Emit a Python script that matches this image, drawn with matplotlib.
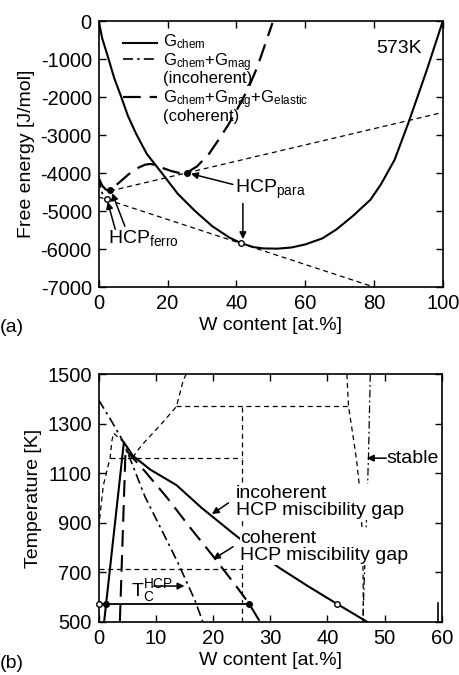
import matplotlib
matplotlib.use('Agg')
import matplotlib.pyplot as plt

plt.rcParams['font.family'] = ['Liberation Sans', 'DejaVu Sans']
plt.rcParams['mathtext.fontset'] = 'custom'
plt.rcParams['mathtext.rm'] = 'Liberation Sans'
plt.rcParams['mathtext.it'] = 'Liberation Sans:italic'
plt.rcParams['mathtext.bf'] = 'Liberation Sans:bold'
plt.rcParams['axes.unicode_minus'] = False

# ---- (a) free energy at 573 K ----
w_chem = [0, 1, 2.8, 4.5, 6.5, 8.5, 11, 14, 18.3, 23, 28, 33, 38, 41.5, 45, 48, 52,
          56, 60, 65, 69, 74, 79, 82, 86, 90, 93.4, 95.5, 97.3, 99, 100]
g_chem = [0, -450, -980, -1500, -1985, -2500, -2990, -3500, -3995, -4550, -5000, -5400,
          -5700, -5850, -5950, -5985, -5990, -5960, -5880, -5720, -5490, -5120, -4700,
          -4300, -3650, -2680, -1800, -1250, -750, -280, 0]

w_incoh = [0, 0.6, 1.2, 2.3, 3.5, 4.8]
g_incoh = [-4130, -4420, -4570, -4690, -4710, -4660]

w_coh = [0, 1, 2, 2.7, 3.3, 5.7, 8.6, 11.5, 13.5, 15, 16.5, 18.3, 21.2, 23.5, 25.6,
         28.5, 31.9, 34.8, 37.7, 40.5, 43.5, 46, 48.3, 50.5]
g_coh = [-4130, -4330, -4430, -4455, -4450, -4270, -4040, -3860, -3780, -3760, -3790,
         -3860, -3950, -4000, -3990, -3830, -3515, -3130, -2725, -2280, -1765, -1230,
         -630, -50]

# common tangents
w_tan1 = [0, 80]
g_tan1 = [-4629, -7000]
w_tan2 = [3.3, 100]
g_tan2 = [-4472, -2405]

w_open_a = [2.3, 41.3]
g_open_a = [-4680, -5850]
w_fill_a = [3.3, 25.6]
g_fill_a = [-4450, -4000]

# ---- (b) phase diagram ----
gap_inc_w = [0.95, 4.4, 6.0, 9.0, 13.6, 18.0, 23.5, 27.5, 31.7, 36.5, 41.6, 46.9]
gap_inc_T = [500, 1225, 1170, 1115, 1052, 960, 857, 785, 716, 645, 573, 500]

gap_coh_w = [3.7, 4.7, 4.9, 8, 12, 16, 20, 24, 26.3, 28.2]
gap_coh_T = [500, 1200, 1190, 1110, 1000, 880, 765, 645, 573, 500]

tc_w = [0, 2, 4.3, 5.8, 8.1, 11, 13.9, 16.8, 18.2]
tc_T = [1396, 1320, 1228, 1140, 1005, 871, 736, 588, 500]

st_h1_w, st_h1_T = [13.6, 43.7], [1370, 1370]
st_h2_w, st_h2_T = [2.0, 25], [1163, 1163]
st_h3_w, st_h3_T = [0, 25], [713, 713]
st_v_w, st_v_T = [25, 25], [500, 1370]
st_top_w = [6.0, 6.6, 8.1, 11.3, 13.6, 14.8, 15.3]
st_top_T = [1163, 1187, 1228, 1308, 1370, 1477, 1500]
st_left_w = [0, 0.2, 0.8, 2.0, 2.3, 2.6, 3.4, 4.4]
st_left_T = [880, 924, 1050, 1163, 1230, 1262, 1245, 1225]
st_rl_w = [43.4, 43.7, 44.5, 45.1, 45.6, 45.9, 46.2, 46.3]
st_rl_T = [1500, 1370, 1248, 1154, 1046, 938, 817, 500]
st_rr_w = [47.5, 47.2, 46.9, 46.6, 46.3, 46.2]
st_rr_T = [1500, 1181, 951, 763, 574, 500]
edge_w, edge_T = [59.4, 59.4], [500, 575]

tie_w, tie_T = [0, 26.3], [573, 573]
open_b_w, open_b_T = [0, 41.6], [573, 573]
fill_b_w, fill_b_T = [1.3, 26.3], [573, 573]

FS = 14
LONG = (0, (8, 4))
SHORT = (0, (4, 3))
DASHDOT = (0, (6, 2.5, 1.5, 2.5))
ARR = dict(arrowstyle='-|>', lw=1.1, color='k', mutation_scale=10, shrinkA=0, shrinkB=0)


def style(ax):
    ax.tick_params(direction='in', length=5, width=1, top=True, right=True,
                   labelsize=14.5, pad=5)
    for s in ax.spines.values():
        s.set_linewidth(1.2)


fig = plt.figure(figsize=(4.6, 6.75), dpi=100)
ax1 = fig.add_axes([0.2146, 0.5748, 0.748, 0.394])
ax2 = fig.add_axes([0.2146, 0.0790, 0.7457, 0.3665])

# (a)
ax1.plot(w_chem, g_chem, color='k', lw=1.5)
ax1.plot(w_incoh, g_incoh, color='k', lw=1.2, linestyle=DASHDOT)
ax1.plot(w_coh, g_coh, color='k', lw=1.6, linestyle=LONG)
ax1.plot(w_tan1, g_tan1, color='k', lw=0.9, linestyle=SHORT)
ax1.plot(w_tan2, g_tan2, color='k', lw=0.9, linestyle=SHORT)
ax1.plot(w_open_a, g_open_a, 'o', ms=4, mfc='white', mec='k', mew=1)
ax1.plot(w_fill_a, g_fill_a, 'o', ms=4, mfc='k', mec='k')
ax1.set_xlim(0, 100)
ax1.set_ylim(-7000, 0)
ax1.set_xticks(range(0, 101, 20))
ax1.set_yticks(range(-7000, 1, 1000))
ax1.set_xlabel('W content [at.%]', fontsize=FS, labelpad=3)
ax1.set_ylabel('Free energy [J/mol]', fontsize=FS, labelpad=4)
style(ax1)

# legend drawn by hand: one text per entry
leg = [('-', 1.5, 0.919, 0.040, 'G$_{\\rm chem}$'),
       (DASHDOT, 1.2, 0.857, 0.030, 'G$_{\\rm chem}$+G$_{\\rm mag}$\n(incoherent)'),
       (LONG, 1.6, 0.716, 0.030, 'G$_{\\rm chem}$+G$_{\\rm mag}$+G$_{\\rm elastic}$\n(coherent)')]
for ls, lw, yy, dy, txt in leg:
    ax1.plot([0.072, 0.17], [yy, yy], transform=ax1.transAxes, color='k', lw=lw, linestyle=ls)
    ax1.text(0.187, yy + dy, txt, transform=ax1.transAxes, fontsize=12, va='top',
             linespacing=0.78)
ax1.text(94, -710, '573K', fontsize=FS, ha='right', va='center')

ax1.text(39.6, -4430, 'HCP$_{\\rm para}$', fontsize=FS, va='center')
ax1.annotate('', xy=(26.8, -4020), xytext=(39.0, -4300), arrowprops=ARR)
ax1.annotate('', xy=(41.9, -5740), xytext=(41.9, -4800), arrowprops=ARR)
ax1.text(2.7, -5700, 'HCP$_{\\rm ferro}$', fontsize=FS, va='center')
ax1.annotate('', xy=(2.6, -4760), xytext=(4.8, -5480), arrowprops=ARR)
ax1.annotate('', xy=(3.9, -4530), xytext=(7.6, -5400), arrowprops=ARR)

# (b)
ax2.plot(st_h1_w, st_h1_T, color='k', lw=0.9, linestyle=SHORT)
ax2.plot(st_h2_w, st_h2_T, color='k', lw=0.9, linestyle=SHORT)
ax2.plot(st_h3_w, st_h3_T, color='k', lw=0.9, linestyle=SHORT)
ax2.plot(st_v_w, st_v_T, color='k', lw=0.9, linestyle=SHORT)
ax2.plot(st_top_w, st_top_T, color='k', lw=0.9, linestyle=SHORT)
ax2.plot(st_left_w, st_left_T, color='k', lw=0.9, linestyle=SHORT)
ax2.plot(st_rl_w, st_rl_T, color='k', lw=0.9, linestyle=SHORT)
ax2.plot(st_rr_w, st_rr_T, color='k', lw=0.9, linestyle=DASHDOT)
ax2.plot(edge_w, edge_T, color='k', lw=1.2)
ax2.plot(tc_w, tc_T, color='k', lw=1.2, linestyle=DASHDOT)
ax2.plot(gap_coh_w, gap_coh_T, color='k', lw=1.5, linestyle=LONG)
ax2.plot(gap_inc_w, gap_inc_T, color='k', lw=1.5)
ax2.plot(tie_w, tie_T, color='k', lw=1.3)
ax2.plot(open_b_w, open_b_T, 'o', ms=4, mfc='white', mec='k', mew=1, clip_on=False, zorder=5)
ax2.plot(fill_b_w, fill_b_T, 'o', ms=4, mfc='k', mec='k', zorder=5)
ax2.set_xlim(0, 60)
ax2.set_ylim(500, 1500)
ax2.set_xticks(range(0, 61, 10))
ax2.set_yticks(range(500, 1501, 200))
ax2.set_xlabel('W content [at.%]', fontsize=FS, labelpad=3)
ax2.set_ylabel('Temperature [K]', fontsize=FS, labelpad=4)
style(ax2)

wb = dict(facecolor='white', edgecolor='none', pad=0.5)
ax2.text(24.0, 983, 'incoherent\nHCP miscibility gap', fontsize=FS, va='center',
         linespacing=1.0, bbox=wb, zorder=6)
ax2.annotate('', xy=(19.8, 935), xytext=(22.7, 980), arrowprops=ARR)
ax2.text(24.8, 800, 'coherent\nHCP miscibility gap', fontsize=FS, va='center',
         linespacing=1.0, bbox=wb, zorder=6)
ax2.annotate('', xy=(20.0, 752), xytext=(23.5, 803), arrowprops=ARR)
ax2.text(50.4, 1161, 'stable', fontsize=FS, va='center')
ax2.annotate('', xy=(46.9, 1161), xytext=(50.3, 1161), arrowprops=ARR)
ax2.text(5.6, 625, 'T$_{\\rm C}^{\\rm HCP}$', fontsize=FS, va='center')
ax2.annotate('', xy=(15.0, 644), xytext=(9.6, 644), arrowprops=ARR)

fig.text(0.0, 1 - 327 / 675, '(a)', fontsize=FS, va='center')
fig.text(0.0, 1 - 663 / 675, '(b)', fontsize=FS, va='center')

fig.savefig('out.png', dpi=100)
